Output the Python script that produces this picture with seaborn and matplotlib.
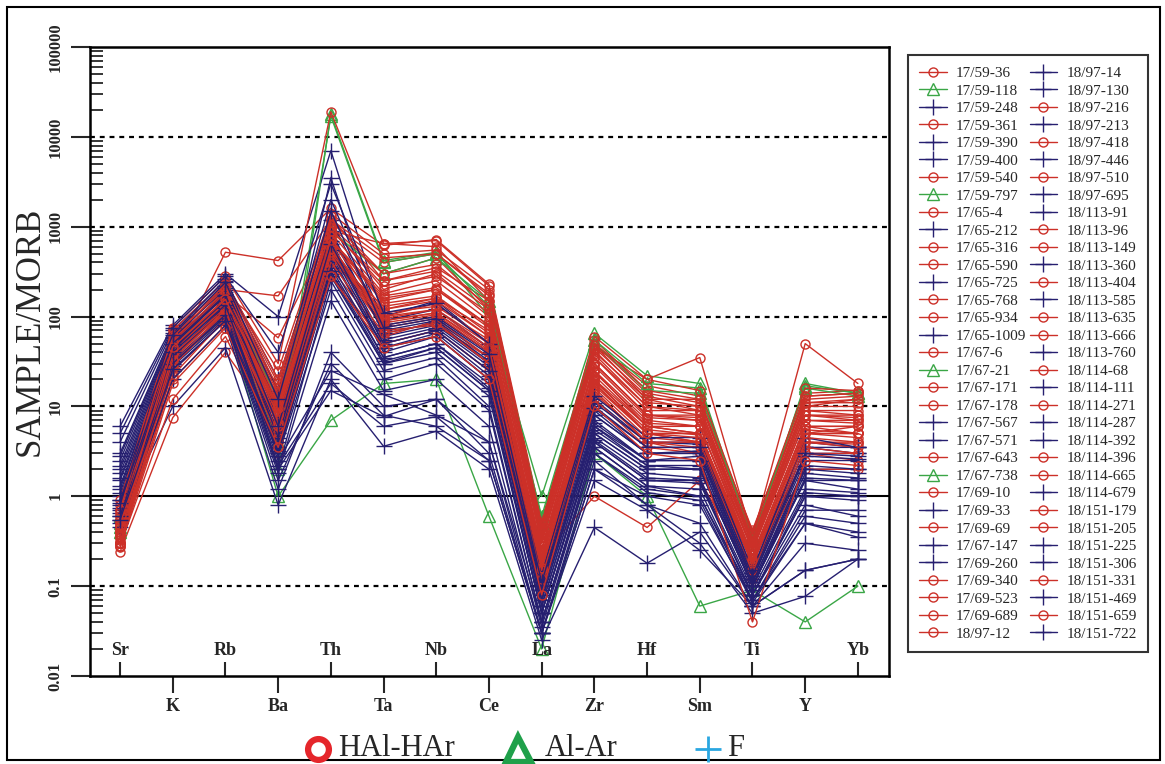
import numpy as np
import matplotlib
matplotlib.use("Agg")
import matplotlib.pyplot as plt
from matplotlib.lines import Line2D
from matplotlib.patches import Rectangle
from matplotlib.transforms import blended_transform_factory
import seaborn as sns

# MORB-normalised trace element spider diagram
ELEMENTS = ["Sr", "K", "Rb", "Ba", "Th", "Ta", "Nb", "Ce", "La",
            "Zr", "Hf", "Sm", "Ti", "Y", "Yb"]

# HAl-HAr samples (sample / MORB), element order as ELEMENTS
HAL_HAR = {
    "17/59-36":   [0.45, 35, 520, 420, 1600, 620, 720, 230, 0.55, 50, 17, 13, 0.42, 14, 15],
    "17/59-361":  [0.30, 40, 200, 170, 1200, 300, 450, 120, 0.35, 40, 12, 9, 0.30, 10, 12],
    "17/59-540":  [0.35, 55, 180, 58, 900, 650, 600, 150, 0.40, 45, 20, 35, 0.35, 50, 18],
    "17/65-4":    [0.24, 7.5, 40, 6, 400, 120, 150, 60, 0.25, 20, 5, 4, 0.20, 5, 6],
    "17/65-316":  [0.50, 50, 150, 10, 1000, 200, 300, 100, 0.30, 35, 10, 8, 0.30, 9, 8],
    "17/65-590":  [0.40, 45, 130, 8, 700, 150, 200, 80, 0.25, 30, 8, 7, 0.25, 8, 7],
    "17/65-768":  [0.60, 60, 160, 12, 800, 100, 120, 50, 0.20, 25, 6, 5, 0.22, 6, 5],
    "17/65-934":  [0.35, 38, 110, 5, 500, 80, 100, 40, 0.15, 18, 5, 4, 0.18, 4, 4],
    "17/67-6":    [0.30, 25, 90, 4, 350, 60, 90, 30, 0.12, 15, 4, 3, 0.15, 3, 3],
    "17/67-171":  [0.80, 70, 250, 20, 1300, 250, 350, 150, 0.45, 55, 15, 12, 0.38, 13, 14],
    "17/67-178":  [0.55, 50, 200, 15, 1100, 400, 500, 180, 0.50, 50, 14, 11, 0.35, 12, 13],
    "17/67-643":  [0.40, 30, 100, 7, 600, 90, 110, 45, 0.18, 20, 5, 5, 0.20, 5, 5],
    "17/69-10":   [0.30, 20, 80, 3, 300, 50, 70, 25, 0.10, 12, 3.5, 3, 0.12, 3, 2.5],
    "17/69-69":   [0.70, 65, 220, 25, 1400, 500, 550, 200, 0.45, 45, 13, 10, 0.32, 11, 11],
    "17/69-340":  [0.45, 42, 140, 9, 650, 70, 80, 35, 0.15, 15, 4, 4, 0.18, 4, 3.5],
    "17/69-523":  [0.35, 35, 120, 6, 550, 110, 130, 55, 0.20, 22, 6, 6, 0.22, 6, 6],
    "17/69-689":  [0.28, 12, 60, 4, 450, 130, 160, 70, 0.22, 1.0, 0.45, 1.5, 0.15, 2, 2],
    "18/97-12":   [0.50, 48, 170, 11, 850, 180, 250, 90, 0.30, 30, 8, 8, 0.28, 8, 8],
    "18/97-216":  [0.60, 55, 190, 14, 950, 220, 280, 110, 0.35, 38, 10, 9, 0.30, 10, 10],
    "18/97-418":  [0.42, 40, 150, 8, 750, 140, 170, 65, 0.22, 25, 7, 6, 0.25, 7, 6.5],
    "18/97-510":  [0.38, 35, 130, 7, 600, 100, 140, 50, 0.18, 20, 6, 5, 0.20, 5.5, 5],
    "18/113-96":  [0.33, 28, 110, 5, 480, 75, 95, 35, 0.14, 16, 4.5, 4, 0.17, 4, 3.8],
    "18/113-149": [0.90, 75, 280, 30, 19000, 650, 700, 220, 0.50, 60, 20, 15, 0.40, 16, 15],
    "18/113-404": [0.50, 45, 160, 10, 700, 160, 200, 75, 0.25, 28, 7.5, 7, 0.25, 7, 7],
    "18/113-635": [0.65, 60, 210, 16, 1000, 300, 380, 130, 0.38, 42, 11, 10, 0.30, 11, 12],
    "18/113-666": [0.28, 22, 95, 4.5, 400, 65, 85, 30, 0.12, 14, 4, 3.5, 0.15, 3.5, 3],
    "18/114-68":  [0.45, 40, 145, 9, 680, 120, 160, 60, 0.20, 24, 6.5, 6, 0.22, 6, 6],
    "18/114-271": [0.55, 52, 180, 13, 900, 250, 320, 120, 0.32, 35, 9, 9, 0.28, 9, 9],
    "18/114-396": [0.40, 38, 125, 8, 620, 95, 120, 45, 0.16, 18, 5, 5, 0.20, 5, 4.5],
    "18/114-665": [0.30, 30, 115, 6, 520, 85, 105, 40, 0.15, 17, 5, 4.5, 0.18, 4.5, 4],
    "18/151-179": [0.70, 62, 230, 18, 1200, 450, 500, 170, 0.42, 48, 12, 12, 0.33, 13, 14],
    "18/151-205": [0.36, 33, 120, 6.5, 560, 90, 110, 42, 0.16, 19, 5.5, 4.8, 0.19, 5, 5],
    "18/151-331": [0.48, 46, 155, 9.5, 720, 170, 210, 80, 0.26, 30, 8, 7.5, 0.26, 8, 7.5],
    "18/151-659": [0.27, 18, 75, 3.5, 280, 45, 60, 20, 0.08, 10, 3, 2.5, 0.04, 2.5, 2.2],
}

# Al-Ar samples
AL_AR = {
    "17/59-118": [0.50, 40, 150, 2, 18000, 420, 520, 100, 1.0, 65, 22, 18, 0.30, 18, 14],
    "17/59-797": [0.60, 30, 100, 1.0, 7, 18, 20, 0.6, 0.02, 3, 1.0, 0.06, 0.09, 0.04, 0.1],
    "17/67-21":  [0.45, 45, 180, 12, 900, 300, 450, 150, 0.50, 50, 15, 14, 0.35, 16, 13],
    "17/67-738": [0.40, 35, 120, 4, 17000, 400, 500, 130, 0.60, 55, 18, 16, 0.32, 17, 14],
}

# F samples
F_GROUP = {
    "17/59-248":  [6.0, 80, 300, 100, 7000, 100, 150, 50, 0.15, 12, 4, 4, 0.15, 4, 3.5],
    "17/59-390":  [2.5, 60, 200, 10, 3500, 60, 80, 30, 0.10, 8, 3, 3, 0.12, 3, 3],
    "17/59-400":  [1.5, 45, 150, 5, 500, 40, 60, 20, 0.06, 5, 2, 2, 0.10, 1.5, 1.5],
    "17/65-212":  [0.9, 35, 120, 3, 300, 30, 45, 15, 0.05, 4, 1.5, 1.5, 0.08, 1, 1],
    "17/65-725":  [0.6, 10, 45, 0.8, 20, 3.6, 5.3, 2, 0.025, 0.45, 0.18, 0.4, 0.06, 0.3, 0.25],
    "17/65-1009": [4.0, 70, 250, 20, 1200, 80, 100, 40, 0.12, 10, 3.5, 3.5, 0.14, 3.5, 3],
    "17/67-567":  [1.2, 50, 180, 6, 600, 50, 70, 25, 0.08, 6, 2.5, 2.5, 0.10, 2, 2],
    "17/67-571":  [0.8, 40, 140, 2, 15, 7.7, 12, 3, 0.03, 2, 1, 0.8, 0.07, 0.5, 0.4],
    "17/69-33":   [2.0, 55, 220, 8, 800, 70, 90, 35, 0.10, 9, 3, 3, 0.12, 2.5, 2.5],
    "17/67-147":  [3.0, 65, 260, 15, 2000, 90, 120, 45, 0.13, 11, 4, 3.8, 0.14, 3.5, 3.5],
    "17/69-260":  [0.7, 30, 100, 2.5, 25, 13.6, 8, 4, 0.04, 3, 1.2, 1, 0.08, 0.8, 0.6],
    "18/97-14":   [1.0, 42, 160, 4, 400, 35, 50, 18, 0.06, 5, 2, 2, 0.10, 1.5, 1.2],
    "18/97-130":  [1.8, 52, 190, 7, 700, 55, 75, 28, 0.09, 7, 2.5, 2.8, 0.11, 2.2, 2],
    "18/97-213":  [0.5, 25, 90, 1.5, 30, 8, 6, 2.5, 0.03, 2.5, 0.8, 0.5, 0.06, 0.15, 0.2],
    "18/97-446":  [0.55, 28, 95, 2, 250, 25, 35, 10, 0.04, 3.5, 1.3, 1.2, 0.07, 0.7, 0.7],
    "18/97-695":  [1.3, 48, 170, 5, 450, 45, 65, 22, 0.07, 6, 2.2, 2.2, 0.10, 1.8, 1.6],
    "18/113-91":  [0.65, 32, 110, 2.8, 200, 20, 30, 9, 0.04, 3.5, 1.3, 1, 0.07, 0.6, 0.5],
    "18/113-360": [2.2, 58, 210, 9, 900, 65, 85, 32, 0.10, 8, 3, 3.2, 0.12, 2.8, 2.6],
    "18/113-585": [0.9, 38, 130, 3.5, 350, 35, 50, 16, 0.05, 4.5, 1.8, 1.6, 0.09, 1.2, 1.1],
    "18/113-760": [0.45, 20, 80, 1.2, 40, 10, 12, 4, 0.03, 2, 0.8, 0.3, 0.05, 0.077, 0.2],
    "18/114-111": [1.1, 44, 150, 4.5, 550, 45, 60, 20, 0.07, 5.5, 2.2, 2, 0.10, 1.6, 1.5],
    "18/114-287": [0.75, 36, 125, 3, 280, 30, 40, 13, 0.05, 4, 1.5, 1.4, 0.08, 1, 0.9],
    "18/114-392": [5.0, 75, 280, 40, 3000, 110, 140, 50, 0.14, 13, 4.5, 4.5, 0.15, 4.5, 3.5],
    "18/114-679": [0.6, 30, 105, 2.2, 18, 6, 7.7, 2.5, 0.03, 1.5, 0.7, 0.25, 0.06, 0.15, 0.2],
    "18/151-225": [1.6, 50, 175, 6, 650, 50, 70, 25, 0.08, 6.5, 2.5, 2.5, 0.11, 2, 1.8],
    "18/151-306": [0.85, 40, 135, 3.2, 320, 32, 45, 15, 0.05, 4.2, 1.6, 1.5, 0.08, 1.1, 1],
    "18/151-469": [2.8, 62, 240, 12, 1500, 75, 95, 38, 0.11, 9.5, 3.5, 3.5, 0.13, 3, 2.8],
    "18/151-722": [0.55, 26, 90, 1.8, 150, 15, 20, 6, 0.035, 3, 1.1, 0.9, 0.065, 0.5, 0.35],
}

LEGEND_ORDER = [
    "17/59-36", "17/59-118", "17/59-248", "17/59-361", "17/59-390", "17/59-400",
    "17/59-540", "17/59-797", "17/65-4", "17/65-212", "17/65-316", "17/65-590",
    "17/65-725", "17/65-768", "17/65-934", "17/65-1009", "17/67-6", "17/67-21",
    "17/67-171", "17/67-178", "17/67-567", "17/67-571", "17/67-643", "17/67-738",
    "17/69-10", "17/69-33", "17/69-69", "17/67-147", "17/69-260", "17/69-340",
    "17/69-523", "17/69-689", "18/97-12",
    "18/97-14", "18/97-130", "18/97-216", "18/97-213", "18/97-418", "18/97-446",
    "18/97-510", "18/97-695", "18/113-91", "18/113-96", "18/113-149", "18/113-360",
    "18/113-404", "18/113-585", "18/113-635", "18/113-666", "18/113-760",
    "18/114-68", "18/114-111", "18/114-271", "18/114-287", "18/114-392",
    "18/114-396", "18/114-665", "18/114-679", "18/151-179", "18/151-205",
    "18/151-225", "18/151-306", "18/151-331", "18/151-469", "18/151-659",
    "18/151-722",
]

GROUP_LABELS = ["HAl-HAr", "Al-Ar", "F"]

sns.set_theme(style="white")
plt.rcParams["font.family"] = ["Liberation Serif", "DejaVu Serif"]
plt.rcParams["axes.linewidth"] = 1.8

STYLE = {
    "HAl-HAr": dict(color="#cc3028", marker="o", markersize=6.5),
    "Al-Ar": dict(color="#3aa646", marker="^", markersize=8.5),
    "F": dict(color="#261f70", marker="+", markersize=12),
}

W, H = 1165, 764
fig = plt.figure(figsize=(W / 100, H / 100), dpi=100)
ax = fig.add_axes([90 / W, 1 - 676 / H, (889 - 90) / W, (676 - 47) / H])

positions = np.arange(len(ELEMENTS))

# reference levels
for level in [0.1, 10, 100, 1000, 10000]:
    ax.axhline(level, color="black", lw=1.6, ls=(0, (2.2, 2.2)), zorder=0.5)
ax.axhline(1, color="black", lw=1.5, zorder=0.5)

for name in LEGEND_ORDER:
    if name in HAL_HAR:
        vals, grp = HAL_HAR[name], "HAl-HAr"
    elif name in AL_AR:
        vals, grp = AL_AR[name], "Al-Ar"
    else:
        vals, grp = F_GROUP[name], "F"
    st = STYLE[grp]
    sns.lineplot(x=positions, y=vals, ax=ax, sort=False, label=name,
                 color=st["color"], marker=st["marker"],
                 markersize=st["markersize"], markerfacecolor="none",
                 markeredgecolor=st["color"], markeredgewidth=1.0,
                 linewidth=1.0)

if ax.get_legend() is not None:
    ax.get_legend().remove()

ax.set_yscale("log")
ax.set_ylim(0.01, 100000)
ax.set_xlim(-0.57, 14.59)

# y axis
yt = [0.01, 0.1, 1, 10, 100, 1000, 10000, 100000]
ax.set_yticks(yt)
ax.set_yticklabels(["0.01", "0.1", "1", "10", "100", "1000", "10000", "100000"],
                   rotation=90, va="center", fontsize=12, fontweight="bold")
ax.yaxis.set_minor_locator(matplotlib.ticker.LogLocator(base=10, subs=np.arange(2, 10)))
ax.yaxis.set_minor_formatter(matplotlib.ticker.NullFormatter())
ax.tick_params(axis="y", which="major", direction="out", length=14, width=1.5,
               left=True, pad=5)
ax.tick_params(axis="y", which="minor", direction="in", length=9, width=1.3, left=True)

# x axis: alternating outer and inner element labels
outer = positions[1::2]
inner = positions[0::2]
ax.set_xticks(outer)
ax.set_xticklabels([ELEMENTS[i] for i in outer], fontsize=13, fontweight="bold")
ax.set_xticks(inner, minor=True)
ax.tick_params(axis="x", which="major", direction="out", length=12, width=1.5,
               bottom=True, pad=4)
ax.tick_params(axis="x", which="minor", direction="in", length=10, width=1.5,
               bottom=True)
trans = blended_transform_factory(ax.transData, ax.transAxes)
for i in inner:
    ax.text(i, 0.04, ELEMENTS[i], transform=trans, ha="center", va="center",
            fontsize=13, fontweight="bold")

for s in ax.spines.values():
    s.set_visible(True)
    s.set_color("black")
    s.set_linewidth(1.8)
ax.grid(False)
ax.set_xlabel("")
ax.set_ylabel("")

fig.text(30 / W, 1 - 331 / H, "SAMPLE/MORB", rotation=90, ha="center",
         va="center", fontsize=25)

# sample legend
handles, labels = ax.get_legend_handles_labels()
leg = fig.legend(handles, labels, ncol=2, loc="upper left",
                 bbox_to_anchor=(908 / W, 1 - 55 / H), borderaxespad=0,
                 fontsize=11, frameon=True, fancybox=False, edgecolor="black",
                 handlelength=1.8, handletextpad=0.6, columnspacing=0.2,
                 labelspacing=0.25, borderpad=0.75)
leg.get_frame().set_linewidth(1.5)

# group key along the bottom edge
key_y = 1 - 749 / H
key_items = [
    (318, 338, dict(marker="o", markersize=15, markerfacecolor="none",
                    markeredgecolor="#e5262b", markeredgewidth=4.5)),
    (518, 545, dict(marker="^", markersize=18, markerfacecolor="white",
                    markeredgecolor="#1fa04a", markeredgewidth=4.5)),
    (708, 727, dict(marker="+", markersize=19, markeredgecolor="#2aa7e1",
                    markeredgewidth=2)),
]
for (mx, tx, mk), lab in zip(key_items, GROUP_LABELS):
    fig.add_artist(Line2D([mx / W], [key_y], ls="none",
                          transform=fig.transFigure, **mk))
    fig.text(tx / W, key_y, lab, ha="left", va="center", fontsize=22)

fig.add_artist(Rectangle((7 / W, 4 / H), (1160 - 7) / W, (757 - 4) / H,
                         transform=fig.transFigure, fill=False,
                         edgecolor="black", linewidth=1.5))

fig.savefig("out.png", dpi=100)
